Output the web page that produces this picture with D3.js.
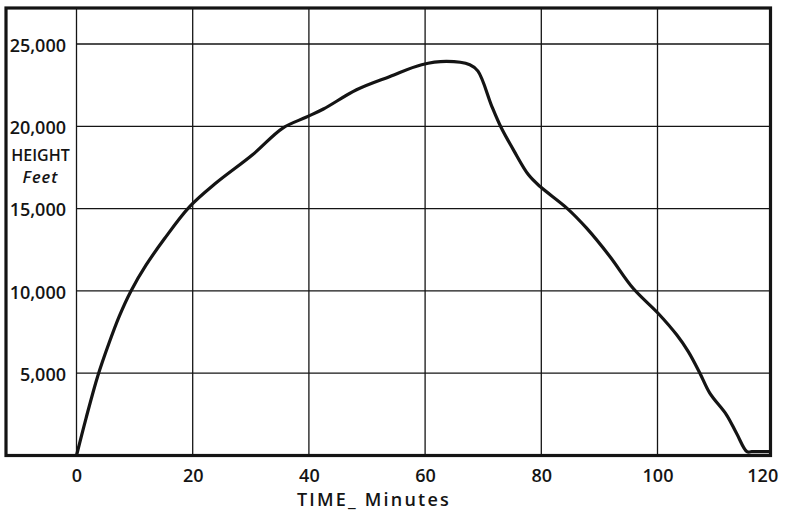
<!DOCTYPE html>
<html lang="en">
<head>
  <meta charset="UTF-8">
  <title>Height - Time</title>
  <script src="https://d3js.org/d3.v7.min.js"></script>
  <style>
    body {
      margin: 0;
      background: #fff;
      font-family: "Open Sans", sans-serif;
    }
    .tick text {
      font-family: "Open Sans", sans-serif;
      font-size: 18px;
      font-weight: 600;
      fill: #141414;
    }
  </style>
</head>
<body>
  <div id="chart"></div>

  <script>
    // time in minutes and height in feet
    const timeMin = [0, 1.64, 3.65, 5.65, 7.37, 9.38, 11.96, 15.1, 19.4, 24, 30.3, 35.5, 39.5, 42.5, 48.2, 53.96,
                     59.4, 63.7, 67.7, 69.1, 71.5, 73, 75.2, 77.8, 79.8, 84.4, 87.8, 91.8, 95.8, 100.1,
                     103.3, 105.3, 107.3, 109, 111.9, 113.6, 115.4, 116.2, 119.45];
    const heightFt = [0, 2260, 4820, 6880, 8470, 10000, 11560, 13150, 15090, 16550, 18270, 19890, 20550, 21050, 22220, 23030,
                      23740, 23940, 23740, 23350, 21200, 19990, 18570, 17050, 16340, 15030, 13810, 12090, 10160, 8640,
                      7330, 6310, 5000, 3790, 2460, 1350, 230, 230, 230];

    const xTicks = [0, 20, 40, 60, 80, 100, 120];
    const yTicks = [5000, 10000, 15000, 20000, 25000];
    const xTitle = "TIME_ Minutes";
    const yTitle = ["HEIGHT", "Feet"];

    const width = 785, height = 512;
    // the drawn frame
    const frame = {left: 6, top: 8, right: 770.5, bottom: 455.5};

    const svg = d3.select("#chart")
                  .append("svg")
                  .attr("width", width)
                  .attr("height", height);

    const x = d3.scaleLinear().domain([0, 120]).range([76.5, 773.7]);
    const y = d3.scaleLinear().domain([0, 25000]).range([frame.bottom, 44]);

    const ink = "#141414";

    // grid
    svg.append("g")
       .selectAll("line")
       .data(xTicks.filter(d => d < 120))
       .enter()
       .append("line")
       .attr("x1", d => x(d)).attr("x2", d => x(d))
       .attr("y1", frame.top).attr("y2", frame.bottom)
       .attr("stroke", ink)
       .attr("stroke-width", 1.3);

    svg.append("g")
       .selectAll("line")
       .data(yTicks)
       .enter()
       .append("line")
       .attr("x1", x(0)).attr("x2", frame.right)
       .attr("y1", d => y(d)).attr("y2", d => y(d))
       .attr("stroke", ink)
       .attr("stroke-width", 1.3);

    // frame
    svg.append("rect")
       .attr("x", frame.left)
       .attr("y", frame.top)
       .attr("width", frame.right - frame.left)
       .attr("height", frame.bottom - frame.top)
       .attr("fill", "none")
       .attr("stroke", ink)
       .attr("stroke-width", 3.2);

    // axes (labels only)
    const xAxis = svg.append("g")
       .attr("transform", `translate(0,${frame.bottom})`)
       .call(d3.axisBottom(x).tickValues(xTicks).tickSize(0).tickPadding(14));
    xAxis.select(".domain").remove();
    xAxis.attr("font-family", null).attr("font-size", null);
    xAxis.selectAll(".tick text")
         .filter(d => d === 120)
         .attr("text-anchor", "end")
         .attr("x", 4);

    const yAxis = svg.append("g")
       .attr("transform", `translate(${x(0)},0)`)
       .call(d3.axisLeft(y).tickValues(yTicks).tickSize(0).tickPadding(10.5).tickFormat(d3.format(",")));
    yAxis.select(".domain").remove();
    yAxis.attr("font-family", null).attr("font-size", null);
    yAxis.selectAll(".tick text").attr("dy", "0.4em");

    // axis titles
    svg.append("text")
       .attr("x", 40.5)
       .attr("y", 161)
       .attr("text-anchor", "middle")
       .style("font-size", "16px")
       .style("font-weight", 600)
       .style("fill", ink)
       .text(yTitle[0]);

    svg.append("text")
       .attr("x", 40.5)
       .attr("y", 182.5)
       .attr("text-anchor", "middle")
       .style("font-size", "16.5px")
       .style("font-weight", 600)
       .style("font-style", "italic")
       .style("letter-spacing", "1px")
       .style("fill", ink)
       .text(yTitle[1]);

    svg.append("text")
       .attr("x", 297)
       .attr("y", 506)
       .style("font-size", "18px")
       .style("font-weight", 600)
       .style("letter-spacing", "2.2px")
       .style("fill", ink)
       .text(xTitle);

    // the climb and descent
    const line = d3.line()
                   .x((d, i) => x(timeMin[i]))
                   .y(d => y(d))
                   .curve(d3.curveCatmullRom.alpha(0.5));

    svg.append("path")
       .datum(heightFt)
       .attr("fill", "none")
       .attr("stroke", ink)
       .attr("stroke-width", 3.2)
       .attr("stroke-linejoin", "round")
       .attr("d", line);
  </script>
</body>
</html>
